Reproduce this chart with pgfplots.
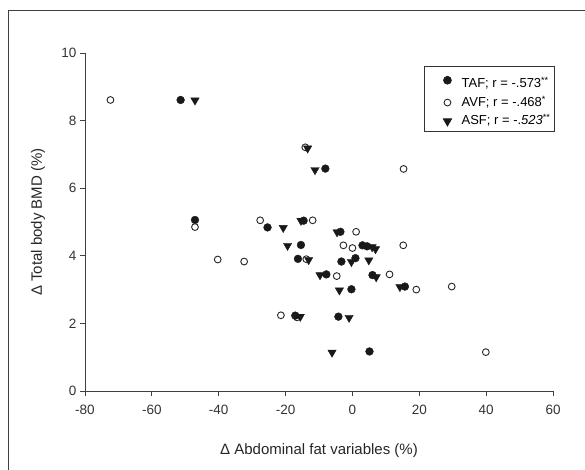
\documentclass[border=0pt]{standalone}
\usepackage{fontspec}
\setmainfont{Liberation Sans}
\usepackage{pgfplots}
\pgfplotsset{compat=1.18}

\pgfplotstableread{
x y
-51.4 8.61
-8.1 6.58
-47.1 5.06
-25.4 4.84
-14.6 5.04
-3.6 4.71
-15.4 4.32
3.0 4.31
4.4 4.28
-16.3 3.91
-3.3 3.83
0.9 3.93
-7.8 3.45
6.0 3.43
15.7 3.09
-0.3 3.01
-17.1 2.23
-4.2 2.20
5.1 1.17
}\taf

\pgfplotstableread{
x y
-72.4 8.61
-14.1 7.21
15.3 6.57
-47.1 4.85
-27.6 5.05
-11.9 5.05
1.1 4.71
-2.7 4.31
0.0 4.23
15.2 4.31
-40.3 3.89
-32.4 3.83
-13.8 3.90
-4.7 3.40
11.1 3.45
19.1 3.00
29.7 3.09
-21.4 2.24
-16.6 2.18
39.9 1.15
}\avf

\pgfplotstableread{
x y
-47.1 8.60
-13.4 7.18
-11.2 6.54
-20.7 4.83
-15.4 5.04
-4.6 4.70
-19.4 4.30
5.9 4.26
6.9 4.20
-13.1 3.88
-0.3 3.82
4.9 3.87
-9.7 3.43
7.1 3.37
14.2 3.08
-3.9 2.98
-15.6 2.20
-1.0 2.17
-6.1 1.14
}\asf

\begin{document}
\begin{tikzpicture}
\useasboundingbox (0pt,0pt) rectangle (585pt,-470pt);
\draw[line width=1pt, black!75] (8.5pt,-470pt) -- (8.5pt,-10.5pt) -- (585pt,-10.5pt);
\begin{axis}[
  at={(85pt,-391pt)}, anchor=south west,
  scale only axis, width=468pt, height=338pt,
  xmin=-80, xmax=60, ymin=0, ymax=10,
  xtick={-80,-60,...,60}, ytick={0,2,...,10},
  axis x line*=bottom, axis y line*=left,
  axis line style={line width=1pt, black!75, -},
  tick style={line width=0.9pt, black!75},
  tick align=outside, major tick length=5pt,
  /pgf/number format/assume math mode=true,
  ticklabel style={font=\fontsize{13.5}{15}\selectfont, text=black!80},
  xticklabel style={yshift=-6pt},
  xlabel={Δ Abdominal fat variables (\%)},
  ylabel={Δ Total body BMD (\%)},
  label style={font=\fontsize{15}{17}\selectfont, text=black!85},
  xlabel style={at={(axis description cs:0.5,-0.175)}, anchor=center},
  ylabel style={at={(axis description cs:-0.1004,0.5)}, anchor=center},
  legend style={at={(rel axis cs:1.004,0.962)}, anchor=north east,
    draw=black!80, line width=0.8pt, font=\fontsize{13}{15}\selectfont,
    inner xsep=3pt, inner ysep=2.5pt, row sep=3pt, column sep=9pt,
    nodes={inner sep=1pt, text depth=3pt}},
  legend cell align=left,
  legend image code/.code={\path[draw=none,fill=none] (-20pt,0pt) rectangle (4pt,0pt); \draw[#1] plot coordinates {(0pt,0pt)};},
]
\addplot[only marks, mark=*, mark size=3.9pt, color=black!90] table[x=x,y=y] {\taf};
\addlegendentry{\rule{0pt}{18pt}TAF; r = -.573\textsuperscript{**}}
\addplot[only marks, mark=o, mark size=3.4pt, line width=0.9pt, color=black!85] table[x=x,y=y] {\avf};
\addlegendentry{AVF; r = -.468\textsuperscript{*}}
\addplot[only marks, mark=triangle*, mark size=4.8pt, mark options={rotate=180}, color=black!90] table[x=x,y=y] {\asf};
\addlegendentry{ASF; r = -.\textit{523}\textsuperscript{**}}
\end{axis}
\end{tikzpicture}
\end{document}
